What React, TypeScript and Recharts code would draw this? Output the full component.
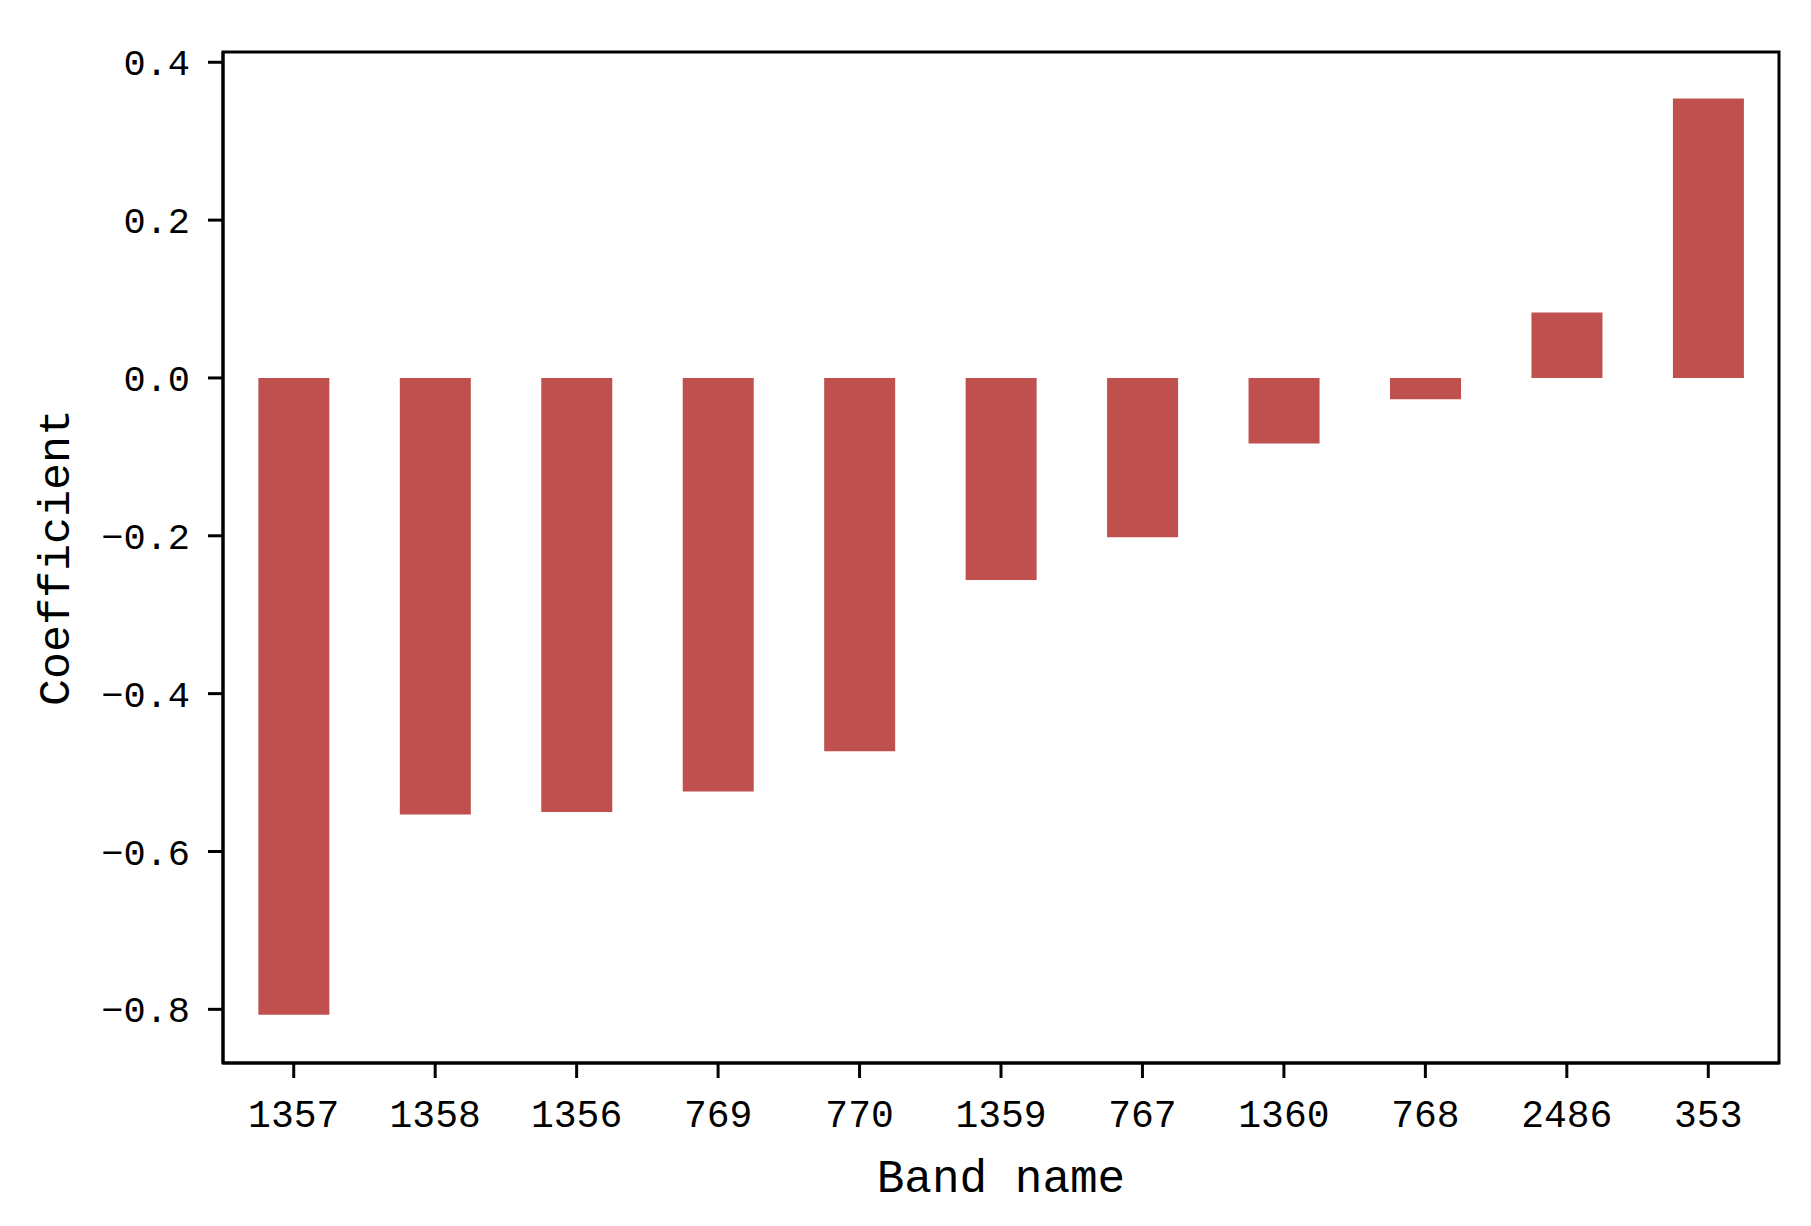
import React from "react";
import { BarChart, Bar, XAxis, YAxis, Label, ReferenceArea } from "recharts";

// band names, sorted by coefficient
const bands = ["1357", "1358", "1356", "769", "770", "1359", "767", "1360", "768", "2486", "353"];
const coefficients = [-0.807, -0.553, -0.55, -0.524, -0.473, -0.256, -0.202, -0.083, -0.027, 0.083, 0.354];
const yTicks = [-0.8, -0.6, -0.4, -0.2, 0.0, 0.2, 0.4];
const yDomain = [-0.868, 0.413];

const data = bands.map((b, i) => ({ band: b, coef: coefficients[i] }));

const FONT = "'Liberation Mono', 'DejaVu Sans Mono', monospace";
const RED = "#C0504D";

const fmt = (v: number) => {
  const s = Math.abs(v).toFixed(1);
  return v < -1e-9 ? "\u2212" + s : s;
};

const YTitle = (props: any) => {
  const vb = props.viewBox || {};
  const x = vb.x + 57;
  const y = vb.y + vb.height / 2;
  return (
    <text
      x={x}
      y={y}
      transform={`rotate(-90, ${x}, ${y})`}
      textAnchor="middle"
      dominantBaseline="central"
      fontFamily={FONT}
      fontSize={45}
      fill="#000"
    >
      Coefficient
    </text>
  );
};

export default function App() {
  return (
    <div style={{ position: "absolute", left: 0, top: 0, background: "#fff" }}>
      <BarChart
        width={1811}
        height={1226}
        data={data}
        margin={{ top: 52, right: 32, left: 0, bottom: 0 }}
        barCategoryGap="25%"
      >
        <XAxis
          dataKey="band"
          height={163}
          tickSize={15}
          tickMargin={22}
          stroke="#000"
          strokeWidth={3}
          tick={{ fill: "#000", fontFamily: FONT, fontSize: 38 }}
          interval={0}
        >
          <Label
            value="Band name"
            position="insideBottom"
            offset={34}
            style={{ fontFamily: FONT, fontSize: 46, fill: "#000" }}
          />
        </XAxis>
        <YAxis
          width={223}
          domain={yDomain}
          ticks={yTicks}
          tickFormatter={fmt}
          tickSize={15}
          tickMargin={18}
          stroke="#000"
          strokeWidth={3}
          tick={{ fill: "#000", fontFamily: FONT, fontSize: 37 }}
          allowDataOverflow
        >
          <Label content={<YTitle />} />
        </YAxis>
        <Bar dataKey="coef" fill={RED} isAnimationActive={false} />
        {/* frame around the plot area */}
        <ReferenceArea
          y1={yDomain[0]}
          y2={yDomain[1]}
          fill="none"
          fillOpacity={0}
          stroke="#000"
          strokeWidth={3}
          ifOverflow="visible"
        />
      </BarChart>
    </div>
  );
}
